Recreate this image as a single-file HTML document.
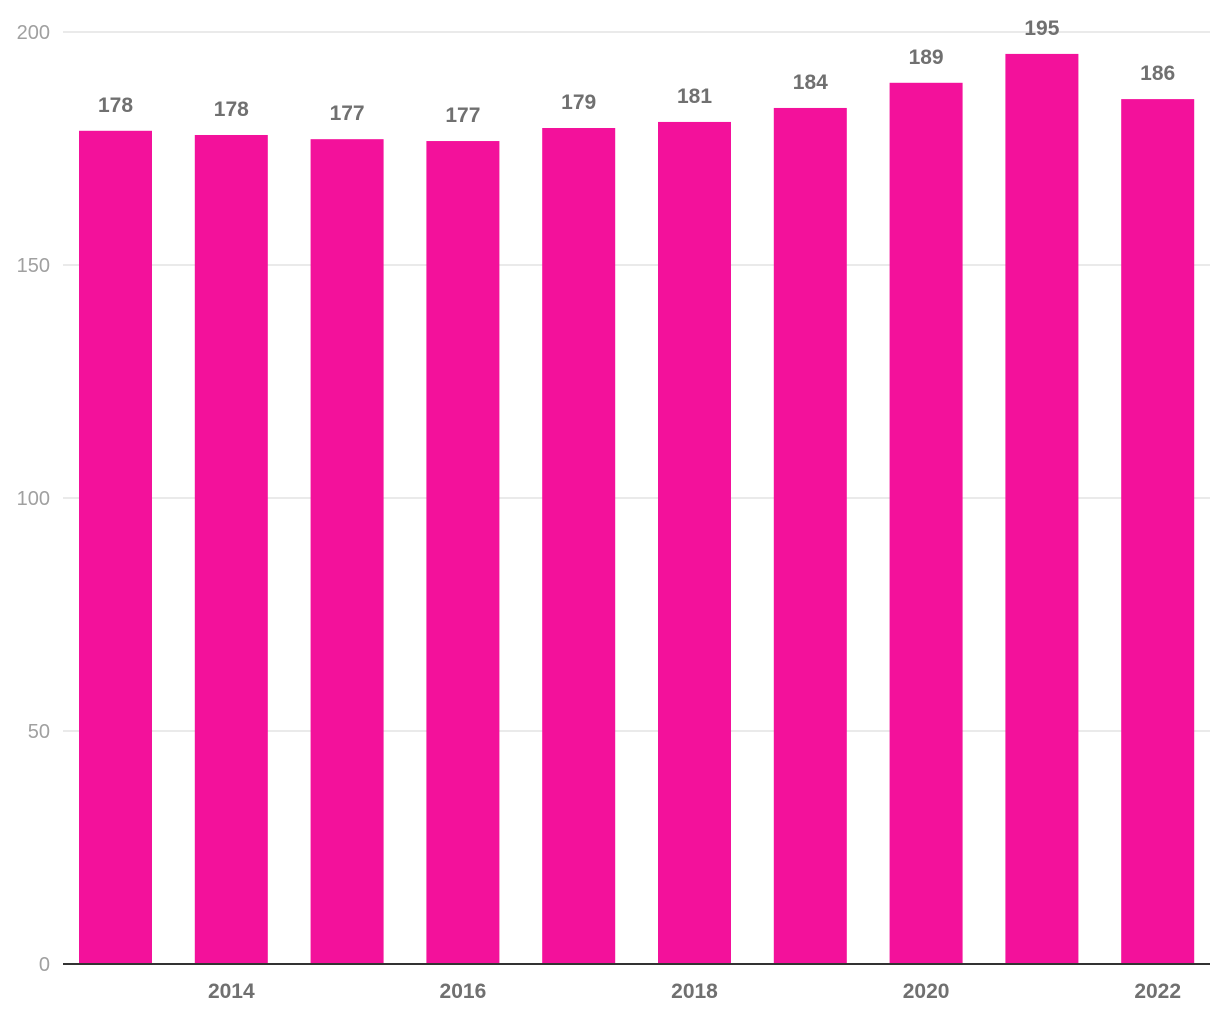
<!DOCTYPE html>
<html><head><meta charset="utf-8"><style>
html,body{margin:0;padding:0;background:#fff;}
svg{display:block;font-family:"Liberation Sans",sans-serif;}
</style></head><body>
<svg id="chart" width="1220" height="1020"></svg>
<script>
const years = [2013,2014,2015,2016,2017,2018,2019,2020,2021,2022];
const values = [178.8,177.9,177.0,176.6,179.4,180.7,183.7,189.1,195.3,185.6];
const valueLabels = ["178","178","177","177","179","181","184","189","195","186"];
const yTicks = [0,50,100,150,200];
const xTickYears = [2014,2016,2018,2020,2022];

const NS="http://www.w3.org/2000/svg";
const svg=document.getElementById('chart');
const y0=964, pxPer=4.66, x0=57.6, band=115.8, bw=73;
const yS=v=>y0-v*pxPer;
const xC=i=>x0+band*(i+0.5);
function mk(t,a){const e=document.createElementNS(NS,t);for(const k in a)e.setAttribute(k,a[k]);svg.appendChild(e);return e;}

yTicks.forEach(t=>{
  if(t>0){const g=mk('line',{x1:63,x2:1210,y1:yS(t),y2:yS(t),stroke:'#e3e3e3','stroke-width':1.5});
  
  }
  const l=mk('text',{x:50,y:yS(t)+7,'text-anchor':'end','font-size':20,fill:'#a0a0a0'});
  l.textContent=t;
  
  
});

values.forEach((v,i)=>{
  const r=mk('rect',{x:xC(i)-bw/2,y:yS(v),width:bw,height:y0-yS(v),fill:'#f3119b'});
  
  
  const t=mk('text',{x:xC(i),y:yS(v)-19,'text-anchor':'middle','font-size':21,fill:'#707070','font-weight':'bold'});
  t.textContent=valueLabels[i];
  
  
});

const ax=mk('line',{x1:63,x2:1210,y1:y0,y2:y0,stroke:'#333','stroke-width':2});



xTickYears.forEach(yr=>{
  const i=years.indexOf(yr);
  const t=mk('text',{x:xC(i),y:998,'text-anchor':'middle','font-size':21,fill:'#707070','font-weight':'bold'});
  t.textContent=yr;
  
  
});
</script>
</body></html>
